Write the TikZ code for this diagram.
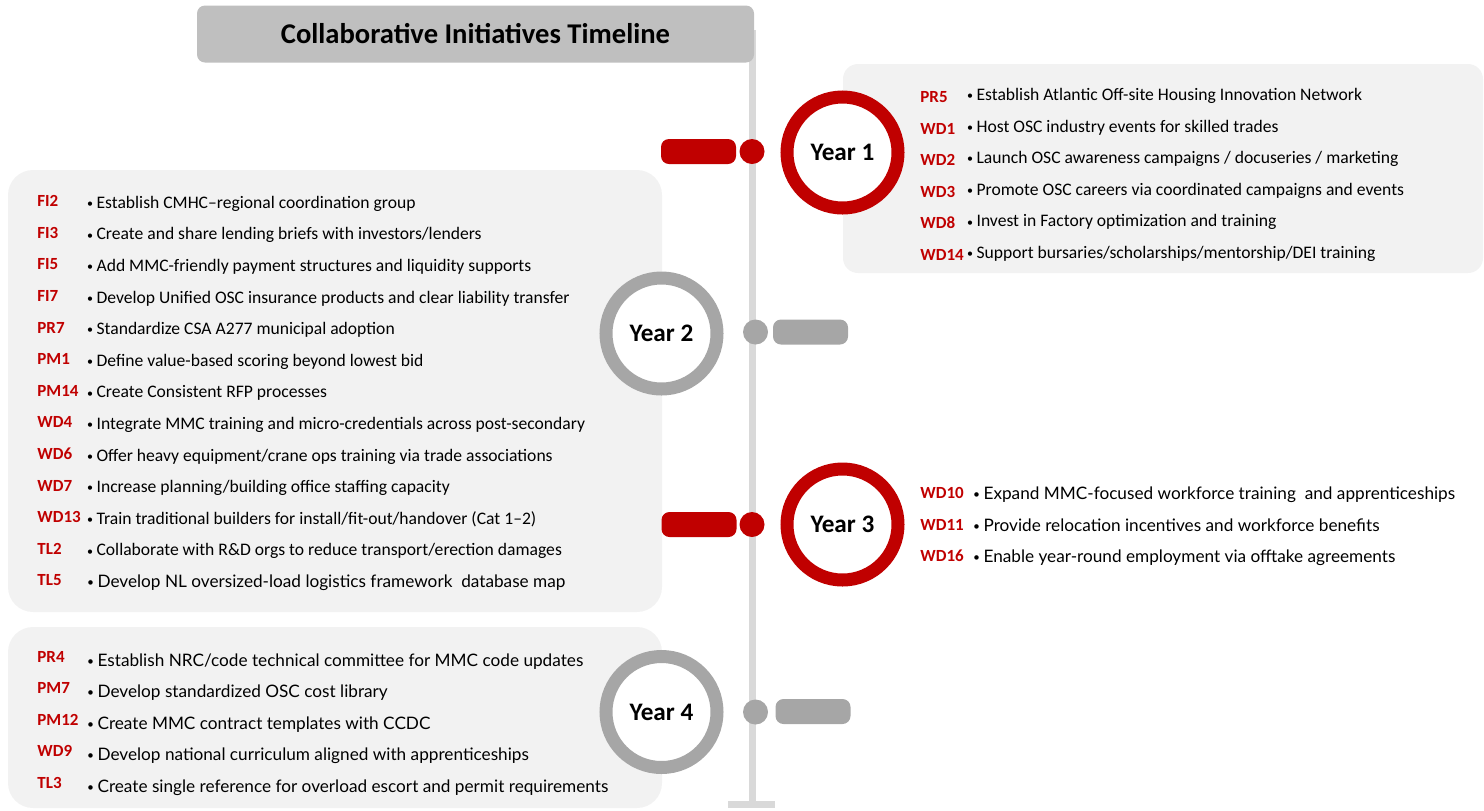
\documentclass[tikz,border=0pt]{standalone}
\usepackage{fontspec}
\setmainfont{Carlito}
\newfontfamily\altfont{Lato}
\definecolor{tlred}{HTML}{C00000}
\definecolor{tlgray}{HTML}{A6A6A6}
\definecolor{panelgray}{HTML}{F2F2F2}
\definecolor{titlegray}{HTML}{BFBFBF}
\definecolor{axisgray}{HTML}{D9D9D9}

% small list bullet
\newcommand{\tlbullet}{{\fontsize{6}{6}\selectfont\raisebox{0.45pt}{•}}\hspace{1.8pt}}
% one row of a panel: name, code x, item x, baseline y, code shift, code, text
\newcommand{\tlrow}[7]{%
  \node[tlcode] (#1c) at (#2,#4+#5) {#6};
  \node[tlitem] (#1) at (#3,#4) {\tlbullet#7};}

\begin{document}
\begin{tikzpicture}[x=0.5pt,y=-0.5pt,
  panel/.style={fill=panelgray},
  titlebox/.style={rectangle, rounded corners=4pt, fill=titlegray,
    minimum width=278.5pt, minimum height=28.5pt, inner sep=0pt,
    font=\fontsize{14.3}{16}\selectfont\bfseries},
  ring/.style={circle, draw=#1, line width=6.5pt, fill=white,
    minimum size=55.5pt, inner sep=0pt, font=\fontsize{12.6}{14}\selectfont\bfseries},
  dotmark/.style={circle, fill=#1, minimum size=12.5pt, inner sep=0pt},
  pill/.style={rectangle, rounded corners=4pt, fill=#1,
    minimum width=37.5pt, minimum height=12.5pt, inner sep=0pt},
  tlcode/.style={anchor=base west, inner sep=0pt, text=tlred,
    font=\fontsize{8.5}{10}\selectfont\bfseries},
  tlitem/.style={anchor=base west, inner sep=0pt,
    font=\fontsize{8.8}{10}\selectfont},
  altitem/.style={tlitem/.style={anchor=base west, inner sep=0pt,
    font=\altfont\fontsize{8.6}{10}\selectfont}},
]
\useasboundingbox (0,0) rectangle (1484,810);

% panels
\fill[panel, rounded corners=7.5pt] (843,64) rectangle (1483,273);
\fill[panel, rounded corners=12.5pt] (8,170) rectangle (662,612);
\fill[panel, rounded corners=12.5pt] (8,627) rectangle (662,808);

% timeline axis with foot
\coordinate (axistop) at (752,30);
\coordinate (axisbot) at (752,803);
\draw[axisgray, line width=3.5pt] (axistop) -- (axisbot);
\fill[axisgray] (728,801) rectangle (775,808);

% title
\node[titlebox] (title) at (475.5,34) {Collaborative Initiatives Timeline};

% year markers
\node[pill=tlred] (y1p) at (698.5,151.5) {};
\node[dotmark=tlred] (y1d) at (752,151.5) {};
\node[ring=tlred] (y1) at (842.5,152.5) {Year 1};

\node[ring=tlgray] (y2) at (661.5,333.5) {Year 2};
\node[dotmark=tlgray] (y2d) at (755.5,332) {};
\node[pill=tlgray] (y2p) at (810.5,332) {};

\node[pill=tlred] (y3p) at (699,524.5) {};
\node[dotmark=tlred] (y3d) at (752,524.5) {};
\node[ring=tlred] (y3) at (842.5,524.5) {Year 3};

\node[ring=tlgray] (y4) at (661.5,712) {Year 4};
\node[dotmark=tlgray] (y4d) at (755.5,712) {};
\node[pill=tlgray] (y4p) at (813,711.5) {};

% Year 1 initiatives
\tlrow{pr5}{920}{966.6}{100.7}{2}{PR5}{Establish Atlantic Off-site Housing Innovation Network}
\tlrow{wd1}{920}{966.6}{132.3}{2}{WD1}{Host OSC industry events for skilled trades}
\tlrow{wd2}{920}{966.6}{163.8}{2}{WD2}{Launch OSC awareness campaigns / docuseries / marketing}
\tlrow{wd3}{920}{966.6}{195.4}{2}{WD3}{Promote OSC careers via coordinated campaigns and events}
\tlrow{wd8}{920}{966.6}{226.9}{2}{WD8}{Invest in Factory optimization and training}
\tlrow{wd14}{920}{966.6}{258.5}{2}{WD14}{Support bursaries/scholarships/mentorship/DEI training}

% Year 2 initiatives
\tlrow{fi2}{37}{86.6}{208.3}{-1.6}{FI2}{Establish CMHC–regional coordination group}
\tlrow{fi3}{37}{86.6}{239.9}{-1.6}{FI3}{Create and share lending briefs with investors/lenders}
\tlrow{fi5}{37}{86.6}{271.5}{-1.6}{FI5}{Add MMC-friendly payment structures and liquidity supports}
\tlrow{fi7}{37}{86.6}{303.1}{-1.6}{FI7}{Develop Unified OSC insurance products and clear liability transfer}
\tlrow{pr7}{37}{86.6}{334.7}{-1.6}{PR7}{Standardize CSA A277 municipal adoption}
\tlrow{pm1}{37}{86.6}{366.3}{-1.6}{PM1}{Define value-based scoring beyond lowest bid}
\tlrow{pm14}{37}{86.6}{397.9}{-1.6}{PM14}{Create Consistent RFP processes}
\tlrow{wd4}{37}{86.6}{429.5}{-1.6}{WD4}{Integrate MMC training and micro-credentials across post-secondary}
\tlrow{wd6}{37}{86.6}{461.1}{-1.6}{WD6}{Offer heavy equipment/crane ops training via trade associations}
\tlrow{wd7}{37}{86.6}{492.7}{-1.6}{WD7}{Increase planning/building office staffing capacity}
\tlrow{wd13}{37}{86.6}{524.3}{-1.6}{WD13}{Train traditional builders for install/fit-out/handover (Cat 1–2)}
\tlrow{tl2}{37}{86.6}{555.9}{-1.6}{TL2}{Collaborate with R\&D orgs to reduce transport/erection damages}
\begin{scope}[altitem]
\tlrow{tl5}{37}{86.6}{587.5}{-1.6}{TL5}{Develop NL oversized-load logistics framework\ \ database map}
\end{scope}

% Year 3 initiatives
\begin{scope}[altitem]
\tlrow{wd10}{920}{972.6}{499}{-1}{WD10}{Expand MMC-focused workforce training\ \ and apprenticeships}
\tlrow{wd11}{920}{972.6}{531}{-1}{WD11}{Provide relocation incentives and workforce benefits}
\tlrow{wd16}{920}{972.6}{562.5}{-1}{WD16}{Enable year-round employment via offtake agreements}
\end{scope}

% Year 4 initiatives
\begin{scope}[altitem]
\tlrow{pr4}{37}{86.6}{666}{-4}{PR4}{Establish NRC/code technical committee for MMC code updates}
\tlrow{pm7}{37}{86.6}{697.6}{-4}{PM7}{Develop standardized OSC cost library}
\tlrow{pm12}{37}{86.6}{729.2}{-4}{PM12}{Create MMC contract templates with CCDC}
\tlrow{wd9}{37}{86.6}{760.8}{-4}{WD9}{Develop national curriculum aligned with apprenticeships}
\tlrow{tl3}{37}{86.6}{792}{-4}{TL3}{Create single reference for overload escort and permit requirements}
\end{scope}
\end{tikzpicture}
\end{document}
